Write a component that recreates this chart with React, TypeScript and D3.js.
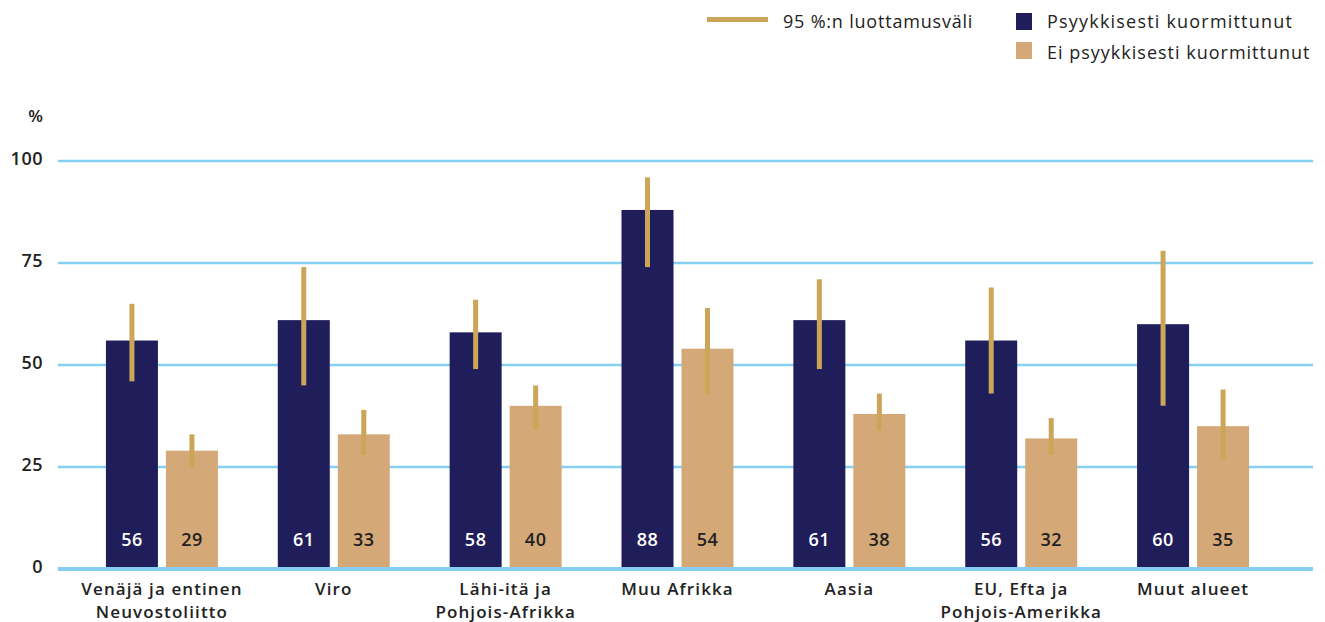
import React from "react";
import * as d3 from "d3";

const categories = [
  "Venäjä ja entinen|Neuvostoliitto",
  "Viro",
  "Lähi-itä ja|Pohjois-Afrikka",
  "Muu Afrikka",
  "Aasia",
  "EU, Efta ja|Pohjois-Amerikka",
  "Muut alueet",
];
const psyValues = [56, 61, 58, 88, 61, 56, 60];
const psyLow = [46, 45, 49, 74, 49, 43, 40];
const psyHigh = [65, 74, 66, 96, 71, 69, 78];
const eiValues = [29, 33, 40, 54, 38, 32, 35];
const eiLow = [25, 28, 34, 43, 34, 28, 27];
const eiHigh = [33, 39, 45, 64, 43, 37, 44];
const yTicks = [0, 25, 50, 75, 100];
const seriesNames = ["Psyykkisesti kuormittunut", "Ei psyykkisesti kuormittunut"];
const ciLabel = "95 %:n luottamusväli";

const W = 1325;
const H = 622;
const DARK = "#201e5a";
const LIGHT = "#d4a977";
const CI = "#cba658";
const GRID = "#86cef2";
const TEXT = "#222222";
const FONT = "'Open Sans', sans-serif";

export default function App() {
  const y = d3.scaleLinear().domain([0, 100]).range([569, 161]);
  const x = d3.scaleBand().domain(categories).range([76, 1279]).padding(0);
  const barW = 52;
  const gap = 8;

  const series = [
    { vals: psyValues, lo: psyLow, hi: psyHigh, color: DARK, text: "#ffffff", off: -gap / 2 - barW },
    { vals: eiValues, lo: eiLow, hi: eiHigh, color: LIGHT, text: TEXT, off: gap / 2 },
  ];

  return (
    <svg
      width={W}
      height={H}
      style={{ position: "absolute", left: 0, top: 0, background: "#fff" }}
      fontFamily={FONT}
    >
      {/* legend */}
      <line x1={707} x2={768} y1={19.5} y2={19.5} stroke={CI} strokeWidth={5} />
      <text x={783} y={27.5} fontSize={18} letterSpacing={0.8} fill={TEXT}>{ciLabel}</text>
      <rect x={1016} y={13} width={16} height={17} fill={DARK} />
      <text x={1047} y={28} fontSize={18} letterSpacing={1.2} fill={TEXT}>{seriesNames[0]}</text>
      <rect x={1016} y={42} width={16} height={17} fill={LIGHT} />
      <text x={1047} y={58.5} fontSize={18} letterSpacing={1.0} fill={TEXT}>{seriesNames[1]}</text>

      {/* y axis */}
      <text x={43} y={122} textAnchor="end" fontSize={17} fontWeight={600} fill={TEXT}>%</text>
      {yTicks.map((t) => (
        <g key={t}>
          {t > 0 && (
            <line x1={58} x2={1313} y1={y(t)} y2={y(t)} stroke={GRID} strokeWidth={2.5} />
          )}
          <text x={43} y={y(t) + 4} textAnchor="end" fontSize={18} fontWeight={600} letterSpacing={0.5} fill={TEXT}>
            {t}
          </text>
        </g>
      ))}

      {/* bars */}
      {categories.map((c, i) => {
        const cx = (x(c) as number) + x.bandwidth() / 2;
        return (
          <g key={c}>
            {series.map((s, k) => {
              const bx = cx + s.off;
              return (
                <g key={k}>
                  <rect x={bx} y={y(s.vals[i])} width={barW} height={y(0) - y(s.vals[i])} fill={s.color} />
                  <text
                    x={bx + barW / 2}
                    y={546}
                    textAnchor="middle"
                    fontSize={18}
                    fontWeight={600}
                    letterSpacing={0.5}
                    fill={s.text}
                  >
                    {s.vals[i]}
                  </text>
                </g>
              );
            })}
            {series.map((s, k) => {
              const bx = cx + s.off + barW / 2;
              return (
                <line
                  key={"ci" + k}
                  x1={bx}
                  x2={bx}
                  y1={y(s.hi[i])}
                  y2={y(s.lo[i])}
                  stroke={CI}
                  strokeWidth={5}
                />
              );
            })}
            {c.split("|").map((ln, j) => (
              <text
                key={j}
                x={cx}
                y={595 + j * 23.3}
                textAnchor="middle"
                fontSize={17}
                fontWeight={600}
                letterSpacing={1.1}
                fill={TEXT}
              >
                {ln}
              </text>
            ))}
          </g>
        );
      })}

      {/* zero line */}
      <line x1={58} x2={1313} y1={569} y2={569} stroke={GRID} strokeWidth={4} />
    </svg>
  );
}
